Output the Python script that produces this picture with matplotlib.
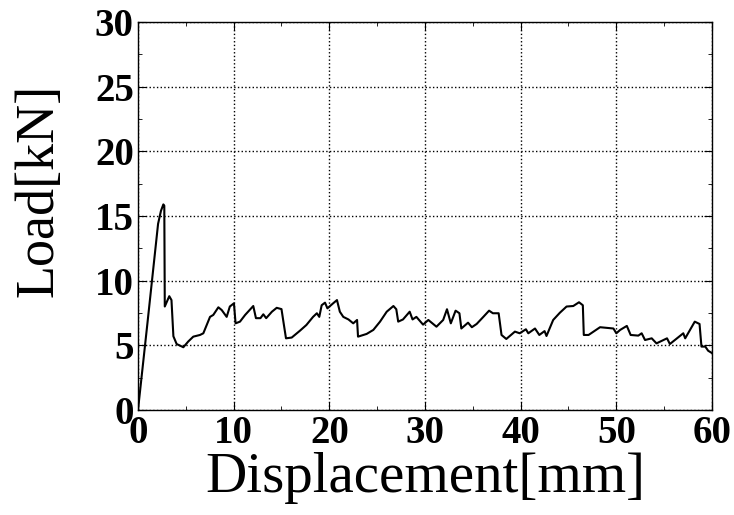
import matplotlib
matplotlib.use('Agg')
import matplotlib.pyplot as plt
from matplotlib.ticker import MultipleLocator

# load-displacement curve
disp = [0, 1.0, 2.1, 2.4, 2.65, 2.75, 2.8, 3.27, 3.5, 3.7, 4.04, 4.74, 5.26, 5.78,
        6.48, 6.83, 7.53, 7.87, 8.4, 8.75, 9.27, 9.6, 10.03, 10.2, 10.66, 11.2,
        12.05, 12.33, 12.8, 13.1, 13.4, 14.0, 14.5, 15.0, 15.2, 15.47, 16.07,
        16.93, 17.6, 18.3, 18.7, 18.95, 19.2, 19.55, 19.8, 20.4, 20.8, 21.1,
        21.46, 22.0, 22.5, 22.9, 23.0, 23.9, 24.6, 25.3, 26.0, 26.7, 27.0, 27.2,
        27.7, 28.4, 28.7, 29.1, 29.8, 30.35, 31.2, 31.9, 32.3, 32.7, 33.2, 33.6,
        33.8, 34.5, 34.9, 35.4, 36.1, 36.7, 37.1, 37.7, 38.0, 38.5, 39.4, 39.9,
        40.55, 40.8, 41.5, 41.95, 42.5, 42.7, 43.4, 44.1, 44.8, 45.5, 46.1, 46.5,
        46.6, 47.1, 48.3, 49.7, 50.0, 50.4, 51.1, 51.5, 52.3, 52.65, 53.0, 53.7,
        54.2, 55.3, 55.6, 57.0, 57.2, 58.2, 58.7, 58.9, 59.3, 59.6, 60.0]
load = [0, 6.8, 14.4, 15.4, 15.9, 15.8, 8.0, 8.8, 8.5, 5.7, 5.1, 4.85, 5.3, 5.67,
        5.8, 5.93, 7.2, 7.35, 7.94, 7.73, 7.2, 8.0, 8.25, 6.7, 6.83, 7.35,
        8.04, 7.1, 7.1, 7.4, 7.1, 7.6, 7.9, 7.8, 6.83, 5.54, 5.6,
        6.13, 6.57, 7.2, 7.48, 7.2, 8.1, 8.3, 7.86, 8.25, 8.5, 7.6,
        7.2, 7.0, 6.7, 6.96, 5.67, 5.88, 6.19, 6.83, 7.6, 8.04, 7.79, 6.83,
        7.0, 7.6, 7.0, 7.2, 6.6, 6.96, 6.44, 6.96, 7.79, 6.7, 7.68, 7.48,
        6.3, 6.75, 6.4, 6.65, 7.2, 7.68, 7.48, 7.48, 5.8, 5.49, 6.06, 5.93,
        6.24, 5.93, 6.3, 5.8, 6.1, 5.72, 6.96, 7.52, 8.0, 8.04, 8.33, 8.1,
        5.8, 5.8, 6.4, 6.3, 5.93, 6.19, 6.5, 5.8, 5.75, 5.93, 5.41, 5.54,
        5.15, 5.54, 5.1, 5.93, 5.54, 6.83, 6.65, 4.9, 4.9, 4.58, 4.4]

plt.rcParams['font.family'] = 'Liberation Serif'

fig = plt.figure(figsize=(7.34, 5.15), dpi=100)
ax = fig.add_axes([0.188, 0.204, 0.782, 0.753])

ax.plot(disp, load, color='black', linewidth=1.5)

ax.set_xlim(0, 60)
ax.set_ylim(0, 30)
ax.xaxis.set_major_locator(MultipleLocator(10))
ax.xaxis.set_minor_locator(MultipleLocator(5))
ax.yaxis.set_major_locator(MultipleLocator(5))
ax.yaxis.set_minor_locator(MultipleLocator(2.5))
ax.tick_params(which='both', direction='in', top=True, right=True, colors='black')
ax.tick_params(which='major', length=6)
ax.tick_params(axis='x', which='major', pad=4)
ax.tick_params(axis='y', which='major', pad=3)
ax.tick_params(which='minor', length=3)
for lab in ax.get_xticklabels() + ax.get_yticklabels():
    lab.set_fontsize(28)
    lab.set_fontweight('bold')

ax.grid(True, which='major', linestyle=':', color='black', linewidth=1)
for s in ax.spines.values():
    s.set_linewidth(1)

ax.set_xlabel('Displacement[mm]', fontsize=41, labelpad=0)
ax.set_ylabel('Load[kN]', fontsize=39)
ax.yaxis.set_label_coords(-0.128, 0.567)

fig.savefig('out.png', dpi=100)
